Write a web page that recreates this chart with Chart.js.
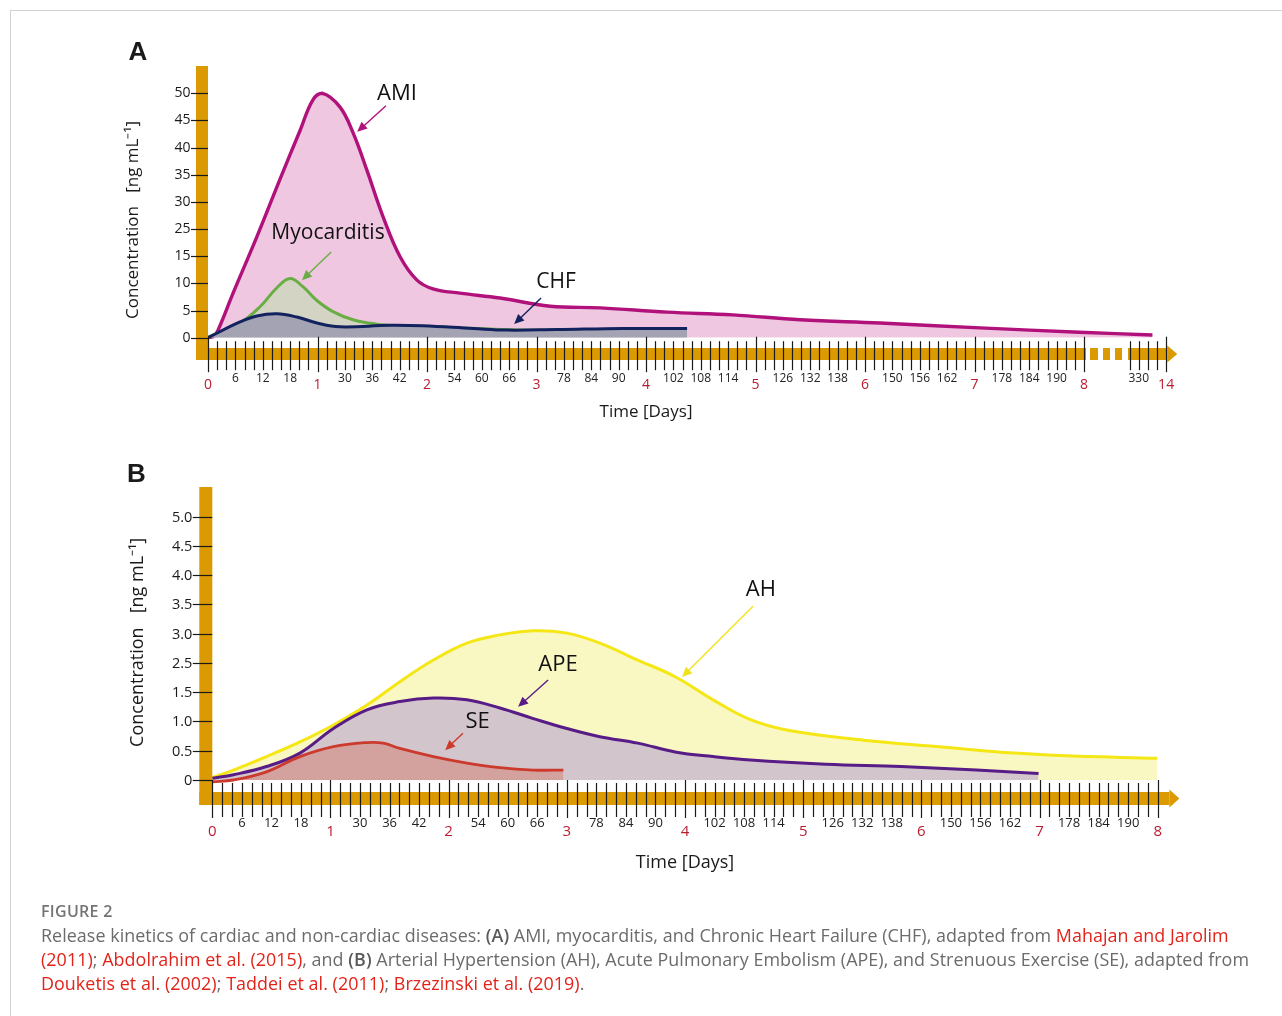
<!DOCTYPE html>
<html>
<head>
<meta charset="utf-8">
<script src="https://cdn.jsdelivr.net/npm/chart.js@4.4.1/dist/chart.umd.min.js"></script>
<style>
  html, body { margin: 0; padding: 0; background: #fff; }
  body { width: 1282px; height: 1016px; position: relative; overflow: hidden; }
  .frame { position: absolute; left: 10px; top: 10px; width: 1300px; height: 1100px;
           border-left: 1px solid #d2d2d2; border-top: 1px solid #d2d2d2; }
  canvas { position: absolute; left: 0; }
  #chartA { top: 0; }
  #chartB { top: 440px; }
  .caption { position: absolute; left: 41px; top: 899px; font-family: 'Open Sans', sans-serif;
             color: #6b6b6b; font-size: 17.9px; line-height: 24px; white-space: nowrap; letter-spacing: 0.05px; }
  .caption .fig { font-size: 16px; letter-spacing: 0.3px; color: #747474; font-weight: 600; }
  .caption b { color: #5a5a5a; font-weight: 600; }
  .caption .ref { color: #e2231a; }
</style>
</head>
<body>
<div class="frame"></div>
<canvas id="chartA" width="1282" height="440"></canvas>
<canvas id="chartB" width="1282" height="460"></canvas>
<div class="caption">
<div class="fig">FIGURE 2</div>
Release kinetics of cardiac and non-cardiac diseases: <b>(A)</b> AMI, myocarditis, and Chronic Heart Failure (CHF), adapted from <span class="ref">Mahajan and Jarolim</span><br>
<span class="ref">(2011)</span>; <span class="ref">Abdolrahim et al. (2015)</span>, and <b>(B)</b> Arterial Hypertension (AH), Acute Pulmonary Embolism (APE), and Strenuous Exercise (SE), adapted from<br>
<span class="ref">Douketis et al. (2002)</span>; <span class="ref">Taddei et al. (2011)</span>; <span class="ref">Brzezinski et al. (2019)</span>.
</div>
<script>
// ---- panel A data (hours, ng/mL) ----
var amiHours = [0, 1.3, 2.2, 5.5, 10.7, 15.7, 20.2, 23, 25.1, 28.9, 31.8, 34.8, 38.4, 42.1, 45.8, 49.3, 55.2, 64, 75, 86, 100.6, 115, 129.8, 147.3, 169.2, 191, 333];
var amiConc  = [0, 0.3, 1.4, 8.2, 22.1, 34, 43.2, 48.8, 50, 47.5, 42.7, 35.9, 27.2, 14.9, 10.6, 9.0, 8.2, 7.3, 5.8, 5.5, 4.7, 4.2, 3.3, 2.7, 1.8, 1.0, 0.5];
var myoHours = [0, 1.1, 7, 11.4, 15.1, 18, 20.8, 23.8, 27.4, 31.8, 37, 42, 53, 68.4, 86, 105];
var myoConc  = [0, 0.5, 2.7, 5.7, 9.2, 10.9, 9.4, 6.9, 4.8, 3.3, 2.5, 2.2, 1.9, 1.4, 1.5, 1.6];
var chfHours = [0, 7, 10.7, 15.1, 19.5, 23.9, 28.9, 39.9, 47.1, 58.1, 65.5, 76.4, 91, 105];
var chfConc  = [0, 2.9, 4.0, 4.4, 3.8, 2.7, 2.0, 2.3, 2.2, 1.7, 1.4, 1.5, 1.7, 1.7];

// ---- panel B data ----
var ahHours  = [0, 4.3, 11, 17.8, 24.6, 31.4, 38.1, 44.9, 51.7, 58.4, 65.2, 72, 78.7, 86.4, 94, 101.7, 109.3, 116.9, 132.3, 147.6, 162.8, 178.1, 191.9];
var ahConc   = [0.04, 0.17, 0.40, 0.65, 0.94, 1.28, 1.86, 2.55, 2.84, 2.98, 3.05, 3.01, 2.84, 2.55, 2.03, 1.37, 1.03, 0.85, 0.68, 0.57, 0.46, 0.40, 0.37];
var apeHours = [0, 4.3, 11, 17.8, 24.6, 31.4, 38.1, 44.9, 51.7, 58.4, 65.2, 72, 78.7, 86.4, 94, 101.7, 109.3, 124.6, 139.9, 155.2, 167.8];
var apeConc  = [0.03, 0.09, 0.23, 0.46, 0.88, 1.20, 1.34, 1.40, 1.37, 1.23, 1.05, 0.88, 0.74, 0.63, 0.48, 0.40, 0.34, 0.27, 0.23, 0.17, 0.11];
var seHours  = [0, 4.3, 11, 17.8, 24.6, 31.4, 34.7, 38.1, 44.9, 51.7, 58.4, 65.2, 71.3];
var seConc   = [-0.03, 0, 0.14, 0.40, 0.57, 0.64, 0.63, 0.54, 0.40, 0.29, 0.21, 0.17, 0.17];

// ---- tick labels ----
var yTicksA = [0, 5, 10, 15, 25, 30, 35, 40, 45, 50];
var yLabelsA = ['0', '5', '10', '15', '25', '30', '35', '40', '45', '50'];
var yTicksB = [0, 0.5, 1.0, 1.5, 2.5, 3.0, 3.5, 4.0, 4.5, 5.0];
var yLabelsB = ['0', '0.5', '1.0', '1.5', '2.5', '3.0', '3.5', '4.0', '4.5', '5.0'];
var hourLabels = ['6', '12', '18', '30', '36', '42', '54', '60', '66', '78', '84', '90', '102', '108', '114', '126', '132', '138', '150', '156', '162', '178', '184', '190'];
var hourLabelAt = [6, 12, 18, 30, 36, 42, 54, 60, 66, 78, 84, 90, 102, 108, 114, 126, 132, 138, 150, 156, 162, 174, 180, 186];
var dayLabelsA = ['0', '1', '2', '3', '4', '5', '6', '7', '8', '14'];
var dayHoursA = [0, 24, 48, 72, 96, 120, 144, 168, 192, 336];
var dayLabelsB = ['0', '1', '2', '3', '4', '5', '6', '7', '8'];
var dayHoursB = [0, 24, 48, 72, 96, 120, 144, 168, 192];

var ORANGE = '#db9a02';
var DAYRED = '#b81d30';
var FONT = "'Open Sans', sans-serif";

function interp(v, vs, ps) {
  var i = 1;
  while (i < vs.length - 1 && v > vs[i]) i++;
  return ps[i - 1] + (v - vs[i - 1]) / (vs[i] - vs[i - 1]) * (ps[i] - ps[i - 1]);
}

// linear scales whose value->position runs through knots (axis break, uneven tick list)
function pieceScale(id, values, positions) {
  class S extends Chart.LinearScale {
    getPixelForValue(v) { return super.getPixelForValue(interp(v, values, positions)); }
  }
  S.id = id;
  S.defaults = {};
  Chart.register(S);
}
pieceScale('hoursA', [0, 192, 326, 336], [0, 192, 200, 210]);
pieceScale('concA', yTicksA, yTicksA.map(function (_, i) { return i; }));
pieceScale('hoursB', [0, 196], [0, 196]);
pieceScale('concB', yTicksB, yTicksB.map(function (_, i) { return i; }));

function pts(xs, ys) {
  return xs.map(function (x, i) { return { x: x, y: ys[i] }; });
}

function arrow(ctx, x1, y1, x2, y2, color) {
  var a = Math.atan2(y2 - y1, x2 - x1), L = 10, W = 4.5;
  ctx.strokeStyle = color; ctx.fillStyle = color; ctx.lineWidth = 1.4;
  ctx.beginPath(); ctx.moveTo(x1, y1);
  ctx.lineTo(x2 - L * 0.7 * Math.cos(a), y2 - L * 0.7 * Math.sin(a)); ctx.stroke();
  ctx.beginPath(); ctx.moveTo(x2, y2);
  ctx.lineTo(x2 - L * Math.cos(a) + W * Math.sin(a), y2 - L * Math.sin(a) - W * Math.cos(a));
  ctx.lineTo(x2 - L * Math.cos(a) - W * Math.sin(a), y2 - L * Math.sin(a) + W * Math.cos(a));
  ctx.closePath(); ctx.fill();
}

function figurePlugin(p) {
  return {
    id: 'figure' + p.letter,
    afterDatasetsDraw: function (chart) {
      var ctx = chart.ctx, xs = chart.scales.x, ys = chart.scales.y, a = chart.chartArea;
      var X = function (h) { return xs.getPixelForValue(h); };
      var Y = function (v) { return ys.getPixelForValue(v); };
      var y0 = Y(0);
      ctx.save();

      // orange axes
      ctx.fillStyle = ORANGE;
      var bl = a.left - p.bar, bottom = y0 + p.barBelow, by = bottom - p.bar;
      ctx.fillRect(bl, a.top - p.barAbove, p.bar, bottom - (a.top - p.barAbove));
      var tip = a.right + 2;
      if (p.breakAt) {
        var xb = X(p.breakAt);
        ctx.fillRect(bl, by, xb + 2 - bl, p.bar);
        [[6, 14], [19, 26], [31, 38]].forEach(function (d) { ctx.fillRect(xb + d[0], by, d[1] - d[0], p.bar); });
        ctx.fillRect(xb + 44, by, tip - 10 - (xb + 44), p.bar);
      } else {
        ctx.fillRect(bl, by, tip - 10 - bl, p.bar);
      }
      ctx.beginPath();
      ctx.moveTo(tip - 10, by - 2.5); ctx.lineTo(tip, by + p.bar / 2); ctx.lineTo(tip - 10, by + p.bar + 2.5);
      ctx.closePath(); ctx.fill();

      // x ticks every 2 h, longer at each day
      ctx.strokeStyle = '#1a1a1a'; ctx.lineWidth = 1.2;
      p.minorHours.forEach(function (h) {
        var x = Math.round(X(h)) + 0.5;
        ctx.beginPath(); ctx.moveTo(x, y0 + p.minor[0]); ctx.lineTo(x, y0 + p.minor[1]); ctx.stroke();
      });
      p.dayHours.forEach(function (h) {
        var x = Math.round(X(h)) + 0.5;
        ctx.beginPath(); ctx.moveTo(x, y0 + p.major[0]); ctx.lineTo(x, y0 + p.major[1]); ctx.stroke();
      });
      ctx.textAlign = 'center'; ctx.textBaseline = 'middle';
      ctx.fillStyle = '#222'; ctx.font = p.hourFont + 'px ' + FONT;
      p.hourLabels.forEach(function (t, i) { ctx.fillText(t, X(p.hourLabelAt[i]), y0 + p.hourY); });
      ctx.fillStyle = DAYRED; ctx.font = p.dayFont + 'px ' + FONT;
      p.dayLabels.forEach(function (t, i) { ctx.fillText(t, X(p.dayHours[i]), y0 + p.dayY); });
      ctx.fillStyle = '#1a1a1a'; ctx.font = p.titleFont + 'px ' + FONT;
      ctx.fillText('Time [Days]', X(96), y0 + p.titleY);

      // y ticks
      ctx.textAlign = 'right'; ctx.font = p.yFont + 'px ' + FONT;
      p.yTicks.forEach(function (v, i) {
        var y = Math.round(Y(v)) + 0.5;
        ctx.beginPath(); ctx.moveTo(a.left - p.yTick, y); ctx.lineTo(a.left, y); ctx.stroke();
        ctx.fillText(p.yLabels[i], a.left - p.yTick - 0.5, y);
      });
      ctx.save();
      ctx.translate(a.left - p.yTitleX, (a.top + y0) / 2 + p.yTitleDy);
      ctx.rotate(-Math.PI / 2);
      ctx.textAlign = 'center'; ctx.font = p.titleFont + 'px ' + FONT;
      ctx.fillText('Concentration   [ng mL\u207B\u00B9]', 0, 0);
      ctx.restore();

      // panel letter
      ctx.textAlign = 'center';
      ctx.font = 'bold 26px "Liberation Sans", Arial, sans-serif';
      ctx.fillText(p.letter, a.left + p.letterPos[0], a.top + p.letterPos[1]);

      // curve labels with arrows
      p.notes.forEach(function (n) {
        ctx.fillStyle = '#111'; ctx.font = n.size + 'px ' + FONT; ctx.textAlign = 'center';
        ctx.fillText(n.text, X(n.at[0]), Y(n.at[1]));
        arrow(ctx, X(n.from[0]), Y(n.from[1]), X(n.to[0]), Y(n.to[1]), n.color);
      });
      ctx.restore();
    }
  };
}

function twoHourTicks(extra) {
  var t = [];
  for (var h = 2; h < 192; h += 2) if (h % 24) t.push(h);
  return t.concat(extra);
}

var panelA = {
  letter: 'A', bar: 12, barAbove: 27.3, barBelow: 22.3, breakAt: 192,
  minor: [3.5, 32.5], major: [-1, 34.5], hourY: 40.5, dayY: 47.5, titleY: 74.5,
  hourFont: 12, dayFont: 14, titleFont: 17, yFont: 14, yTick: 17, yTitleX: 75, yTitleDy: 4.5,
  minorHours: twoHourTicks([328, 330, 332, 334]), dayHours: dayHoursA, dayLabels: dayLabelsA,
  hourLabels: hourLabels.concat(['330']), hourLabelAt: hourLabelAt.concat([330]),
  yTicks: yTicksA, yLabels: yLabelsA, letterPos: [-70, -40],
  notes: [
    { text: 'AMI', size: 22, at: [41.4, 49.9], from: [39, 47.7], to: [32.7, 42.9], color: '#b0117b' },
    { text: 'Myocarditis', size: 21, at: [26.3, 23.6], from: [27, 16.6], to: [20.6, 10.6], color: '#6aad45' },
    { text: 'CHF', size: 21, at: [76.3, 10.3], from: [73, 7.3], to: [67.1, 2.5], color: '#12225e' }
  ]
};

var panelB = {
  letter: 'B', bar: 13, barAbove: 29.7, barBelow: 25, breakAt: null,
  minor: [3, 37], major: [0, 38], hourY: 43, dayY: 52, titleY: 83,
  hourFont: 13, dayFont: 15, titleFont: 18, yFont: 14.5, yTick: 19.5, yTitleX: 74.3, yTitleDy: -6,
  minorHours: twoHourTicks([]), dayHours: dayHoursB, dayLabels: dayLabelsB,
  hourLabels: hourLabels, hourLabelAt: hourLabelAt,
  yTicks: yTicksB, yLabels: yLabelsB, letterPos: [-76, -41.5],
  notes: [
    { text: 'AH', size: 22, at: [111.4, 3.75], from: [109.8, 3.47], to: [95.4, 2.02], color: '#f2e21a' },
    { text: 'APE', size: 22, at: [70.2, 2.43], from: [68.2, 1.92], to: [62.1, 1.25], color: '#581c87' },
    { text: 'SE', size: 22, at: [53.9, 0.99], from: [50.9, 0.80], to: [47.3, 0.51], color: '#cc3a2e' }
  ]
};

function line(data, color, fill, width) {
  return {
    data: data, borderColor: color, backgroundColor: fill, fill: 'origin',
    borderWidth: width, pointRadius: 0, tension: 0.4, clip: false
  };
}

function makeChart(id, datasets, xType, xMax, yType, pad, panel) {
  return new Chart(document.getElementById(id).getContext('2d'), {
    type: 'line',
    data: { datasets: datasets },
    options: {
      responsive: false, animation: false, events: [],
      layout: { padding: pad },
      plugins: { legend: { display: false }, tooltip: { enabled: false } },
      scales: {
        x: { type: xType, min: 0, max: xMax, bounds: 'data', display: false },
        y: { type: yType, min: 0, max: 9, bounds: 'data', display: false }
      }
    },
    plugins: [figurePlugin(panel)]
  });
}

makeChart('chartA', [
  line(pts(chfHours, chfConc), '#12225e', '#a4a3b3', 3),
  line(pts(myoHours, myoConc), '#6aad45', '#d4d4c5', 3),
  line(pts(amiHours, amiConc), '#b0117b', '#f0c7e0', 3.4)
], 'hoursA', 212, 'concA', { left: 208, right: 106.75, top: 93.3, bottom: 102.3 }, panelA);

makeChart('chartB', [
  line(pts(seHours, seConc), '#cc3a2e', '#d4a29e', 2.8),
  line(pts(apeHours, apeConc), '#581c87', '#d3c5cc', 3),
  line(pts(ahHours, ahConc), '#f5e616', '#faf8c2', 3)
], 'hoursB', 196, 'concB', { left: 212.3, right: 104.6, top: 76.7, bottom: 120 }, panelB);
</script>
</body>
</html>
